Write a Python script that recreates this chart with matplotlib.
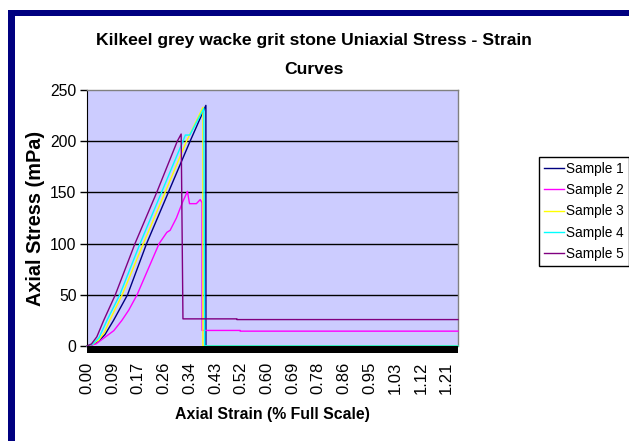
import matplotlib
matplotlib.use("Agg")
import matplotlib.pyplot as plt
from matplotlib.patches import Rectangle

# ---- data ----
tick_values = [0.0, 0.0862, 0.1724, 0.2586, 0.3448, 0.431, 0.5172, 0.6034,
               0.6896, 0.7758, 0.862, 0.9482, 1.0344, 1.1206, 1.2068]
tick_labels = ["0.00", "0.09", "0.17", "0.26", "0.34", "0.43", "0.52", "0.60",
               "0.69", "0.78", "0.86", "0.95", "1.03", "1.12", "1.21"]
x_max = 1.245

s1_x = [0, 0.02, 0.04, 0.06, 0.089, 0.136, 0.20, 0.273, 0.346, 0.399, 0.399, 1.245]
s1_y = [0, 1.5, 5, 11, 25, 50, 100, 150, 200, 235, 0, 0]

s2_x = [0, 0.03, 0.06, 0.09, 0.117, 0.14, 0.168, 0.205, 0.242, 0.268, 0.279, 0.30,
        0.32, 0.337, 0.344, 0.367, 0.38, 0.386, 0.386, 0.514, 0.514, 1.245]
s2_y = [0, 2, 8.5, 15, 25, 35, 50, 75, 100, 111, 113, 125,
        140, 151, 139, 139, 143, 140, 15.2, 15.2, 14.5, 14.5]

s3_x = [0, 0.02, 0.04, 0.06, 0.076, 0.118, 0.189, 0.262, 0.334, 0.389, 0.389, 1.245]
s3_y = [0, 2, 6, 14, 25, 50, 100, 150, 200, 233, 0, 0]

s4_x = [0, 0.02, 0.04, 0.067, 0.11, 0.178, 0.25, 0.322, 0.33, 0.345, 0.392, 0.395, 1.245]
s4_y = [0, 2, 8, 25, 50, 100, 150, 200, 206, 206, 232, 0, 0]

s5_x = [0, 0.015, 0.033, 0.056, 0.095, 0.161, 0.234, 0.303, 0.316, 0.322, 0.503, 0.503, 1.245]
s5_y = [0, 2, 9, 25, 50, 100, 150, 200, 207, 26.5, 26.5, 25.8, 25.8]

series = [
    ("Sample 1", s1_x, s1_y, "#000080"),
    ("Sample 2", s2_x, s2_y, "#FF00FF"),
    ("Sample 3", s3_x, s3_y, "#FFFF00"),
    ("Sample 4", s4_x, s4_y, "#00FFFF"),
    ("Sample 5", s5_x, s5_y, "#800080"),
]
y_ticks = [0, 50, 100, 150, 200, 250]
title_lines = ["Kilkeel grey wacke grit stone Uniaxial Stress - Strain", "Curves"]

FONT = ["Liberation Sans", "DejaVu Sans"]

W, H = 629, 441
fig = plt.figure(figsize=(W / 100, H / 100), dpi=100)
fig.patch.set_facecolor("white")

# navy frame (top and left)
fig.patches.append(Rectangle((8 / W, 0), 7 / W, (H - 10) / H, transform=fig.transFigure,
                             facecolor="#000080", edgecolor="none", zorder=0))
fig.patches.append(Rectangle((8 / W, (H - 16) / H), 1 - 8 / W, 6 / H, transform=fig.transFigure,
                             facecolor="#000080", edgecolor="none", zorder=0))

left, right, top, bottom = 87, 458, 90, 346
ax = fig.add_axes([left / W, 1 - bottom / H, (right - left) / W, (bottom - top) / H])
ax.set_facecolor("#CCCCFF")

for name, xs, ys, c in series:
    ax.plot(xs, ys, color=c, lw=1.0, label=name, clip_on=False, zorder=3)

ax.set_xlim(0, x_max)
ax.set_ylim(0, 250)

for v in y_ticks[1:-1]:
    ax.axhline(v, color="#000000", lw=1.0, zorder=1)

ax.set_yticks(y_ticks)
ax.set_yticklabels([str(v) for v in y_ticks], fontfamily=FONT, fontsize=11.3)
ax.tick_params(axis="y", direction="out", length=5, width=1, color="black", pad=2.5)

ax.set_xticks(tick_values)
ax.set_xticklabels(tick_labels, rotation=90, fontfamily=FONT, fontsize=12)
ax.tick_params(axis="x", length=0, pad=11)

for s in ["top", "right"]:
    ax.spines[s].set_color("#808080")
    ax.spines[s].set_linewidth(1.0)
ax.spines["left"].set_color("black")
ax.spines["bottom"].set_visible(False)

# thick black category-axis band
ax.add_patch(Rectangle((0, -7 / (bottom - top)), 1, 7 / (bottom - top), transform=ax.transAxes,
                       facecolor="black", edgecolor="none", clip_on=False, zorder=4))

ax.set_xlabel("Axial Strain (% Full Scale)", fontfamily=FONT, fontweight="bold", fontsize=11.4)
ax.xaxis.set_label_coords(0.5, (bottom - 407) / (bottom - top))
ax.set_ylabel("Axial Stress (mPa)", fontfamily=FONT, fontweight="bold", fontsize=14.3)
ax.yaxis.set_label_coords((45 - left) / (right - left), 0.5)

for line, base in zip(title_lines, [45, 74]):
    fig.text(314 / W, 1 - base / H, line, ha="center", va="baseline", fontfamily=FONT,
             fontweight="bold", fontsize=12.6)

leg = fig.legend(loc="upper left", bbox_to_anchor=(539 / W, 1 - 157 / H), borderaxespad=0,
                 prop={"family": FONT, "size": 9.8}, frameon=True, fancybox=False,
                 edgecolor="black", framealpha=1, handlelength=1.45, handletextpad=0.2,
                 labelspacing=0.53, borderpad=0.36)
leg.get_frame().set_linewidth(1.0)

fig.savefig("out.png", dpi=100, facecolor="white")
